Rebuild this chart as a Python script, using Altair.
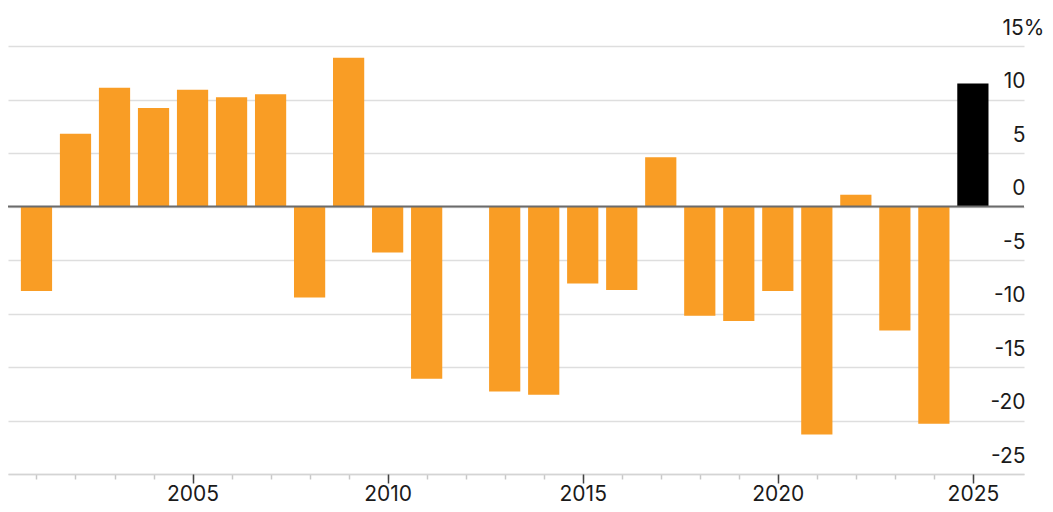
import altair as alt
import pandas as pd

years = list(range(2001, 2026))
values = [-7.9, 6.8, 11.1, 9.2, 10.9, 10.2, 10.5, -8.5, 13.9, -4.3,
          -16.1, 0.0, -17.3, -17.6, -7.2, -7.8, 4.6, -10.2, -10.7, -7.9,
          -21.3, 1.1, -11.6, -20.3, 11.5]
major_years = [2005, 2010, 2015, 2020, 2025]
y_ticks = [-25, -20, -15, -10, -5, 0, 5, 10, 15]
zero = [0]

df = pd.DataFrame({"year": years, "value": values})
zdf = pd.DataFrame({"z": zero})

FONT = "Inter"
ORANGE = "#F99D25"
TEXT = "#1a1a1a"

xs = alt.Scale(domain=[2000.27, 2026.31], nice=False, zero=False)
ys = alt.Scale(domain=[-25, 15], nice=False, zero=False)

y_axis = alt.Axis(
    orient="right", values=y_ticks, grid=True, gridColor="#dedede", gridWidth=1.5,
    domain=False, ticks=False, labelAlign="right", labelBaseline="alphabetic",
    labelOffset=-12,
    labelPadding={"condition": {"test": "datum.value == 15", "value": 20}, "value": 1},
    labelExpr="datum.value == 15 ? '15%' : (datum.value + '')",
    labelFont=FONT, labelFontSize=21, labelColor=TEXT, title=None,
)

minor_axis = alt.Axis(
    orient="bottom", values=years, labels=False, grid=False, domain=True,
    domainColor="#d4d4d4", domainWidth=1.5, tickColor="#c8c8c8", tickSize=5,
    tickWidth=1.5, title=None,
)

major_axis = alt.Axis(
    orient="bottom", values=major_years, grid=False, domain=False,
    tickColor="#444444", tickSize=9, tickWidth=1.5, format="d",
    labelFont=FONT, labelFontSize=21, labelColor=TEXT, labelPadding=0,
    title=None,
)

bars = alt.Chart(df).transform_calculate(
    x0="datum.year - 0.4", x1="datum.year + 0.4"
).mark_bar().encode(
    x=alt.X("x0:Q", scale=xs, axis=minor_axis),
    x2="x1:Q",
    y=alt.Y("value:Q", scale=ys, axis=y_axis),
    y2=alt.datum(0),
    color=alt.condition("datum.year == 2025", alt.value("#000000"), alt.value(ORANGE)),
)

major = alt.Chart(df).mark_point(opacity=0).encode(
    x=alt.X("year:Q", scale=xs, axis=major_axis),
    y=alt.Y("value:Q", scale=ys),
)

zero_rule = alt.Chart(zdf).mark_rule(color="#6b6b6b", strokeWidth=2).encode(
    y=alt.Y("z:Q", scale=ys)
)

chart = alt.layer(bars, zero_rule, major).resolve_axis(x="independent").properties(
    width=1016, height=428,
    padding={"left": 0, "top": 38, "right": 21, "bottom": 30},
    autosize=alt.AutoSizeParams(type="none"),
).configure_view(stroke=None)

chart.save("out.html", embed_options={"renderer": "svg", "actions": False})
